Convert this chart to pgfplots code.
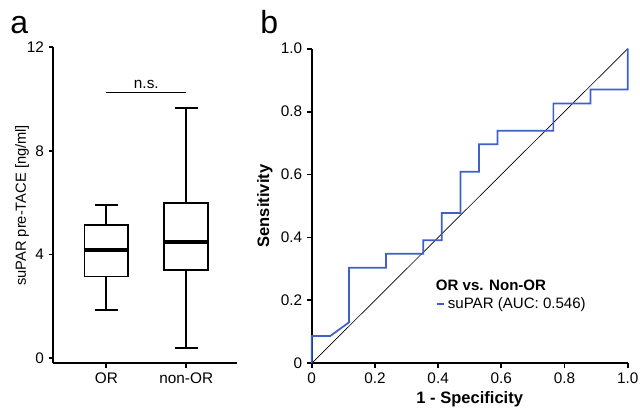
\documentclass[border=0pt]{standalone}
\usepackage{fontspec}
\setmainfont{Liberation Sans}
\usepackage{pgfplots}
\pgfplotsset{compat=1.18}
\usepgfplotslibrary{statistics}

\definecolor{rocblue}{RGB}{62,96,200}

\pgfplotsset{
  panel/.style={
    scale only axis, anchor=south west,
    axis x line*=bottom, axis y line*=left,
    axis line style={-, line width=1.4pt},
    tick align=outside, major tick length=3.6pt,
    tick style={line width=1.4pt, black},
    /pgf/number format/assume math mode=true,
    tick label style={font=\fontsize{11.5}{13}\selectfont},
  },
}

\begin{document}
\begin{tikzpicture}
\path[use as bounding box] (0,0) rectangle (480pt,306pt);

% panel a: boxplots
\begin{axis}[panel,
    at={(40pt,33.5pt)}, width=138pt, height=237pt,
    xmin=0.335, xmax=2.64, ymin=-0.2, ymax=12,
    xtick={1,2}, xticklabels={OR,non-OR},
    ytick={0,4,8,12},
    ylabel={suPAR pre-TACE [ng/ml]},
    ylabel style={at={(axis description cs:-0.17,0.5)}, anchor=center,
      font=\fontsize{11}{13}\selectfont},
    clip=false,
    boxplot/draw direction=y,
    boxplot/box extend=0.55,
    boxplot/whisker extend=0.29,
    boxplot/every box/.style={line width=1.4pt},
    boxplot/every whisker/.style={line width=1.4pt},
    boxplot/every median/.style={line width=3pt},
  ]
\addplot[black, boxplot prepared={draw position=1,
    lower whisker=1.85, lower quartile=3.15, median=4.18,
    upper quartile=5.14, upper whisker=5.90}] coordinates {};
\addplot[black, boxplot prepared={draw position=2,
    lower whisker=0.40, lower quartile=3.39, median=4.47,
    upper quartile=5.98, upper whisker=9.66}] coordinates {};
\draw[line width=1.1pt] (axis cs:1,10.25) -- (axis cs:2,10.25);
\node[anchor=south, font=\fontsize{11.5}{13}\selectfont, inner sep=2pt]
  at (axis cs:1.5,10.3) {n.s.};
\end{axis}

% panel b: ROC curve
\begin{axis}[panel,
    at={(233.8pt,33.5pt)}, width=237pt, height=236pt,
    xmin=0, xmax=1, ymin=0, ymax=1,
    xtick={0,0.2,0.4,0.6,0.8,1}, xticklabels={0,0.2,0.4,0.6,0.8,1.0},
    ytick={0,0.2,0.4,0.6,0.8,1}, yticklabels={0,0.2,0.4,0.6,0.8,1.0},
    xlabel={\textbf{1 - Specificity}},
    ylabel={\textbf{Sensitivity}},
    label style={font=\fontsize{12.4}{14}\selectfont},
    xlabel style={at={(axis description cs:0.5,-0.114)}, anchor=center},
    ylabel style={at={(axis description cs:-0.148,0.5)}, anchor=center},
    clip=false,
    legend style={at={(axis cs:0.392,0.19)}, anchor=west, draw=none, fill=none,
      inner sep=0pt, font=\fontsize{11.3}{13}\selectfont,
      nodes={inner sep=2.5pt}},
    legend cell align=left,
    legend image code/.code={\draw[#1, line width=1.5pt] (0pt,0pt) -- (5pt,0pt);},
  ]
\addplot[black, line width=0.5pt, forget plot] coordinates {(0,0) (1,1)};
\addplot[rocblue, line width=1.3pt] coordinates {
  (0,0) (0,0.087) (0.0588,0.087) (0.1176,0.130) (0.1176,0.304)
  (0.2353,0.304) (0.2353,0.348) (0.3529,0.348) (0.3529,0.391)
  (0.4118,0.391) (0.4118,0.478) (0.4706,0.478) (0.4706,0.609)
  (0.5294,0.609) (0.5294,0.696) (0.5882,0.696) (0.5882,0.739)
  (0.7647,0.739) (0.7647,0.826) (0.8824,0.826) (0.8824,0.870)
  (1,0.870) (1,1)};
\addlegendentry{suPAR (AUC: 0.546)}
\node[anchor=base west, inner sep=0pt, font=\bfseries\fontsize{11.3}{13}\selectfont]
  at (axis cs:0.392,0.233) {OR vs. Non-OR};
\end{axis}

\node[anchor=base west, inner sep=0pt, font=\fontsize{24}{24}\selectfont] at (7.5pt,281pt) {a};
\node[anchor=base west, inner sep=0pt, font=\fontsize{24}{24}\selectfont] at (195pt,281pt) {b};
\end{tikzpicture}
\end{document}
